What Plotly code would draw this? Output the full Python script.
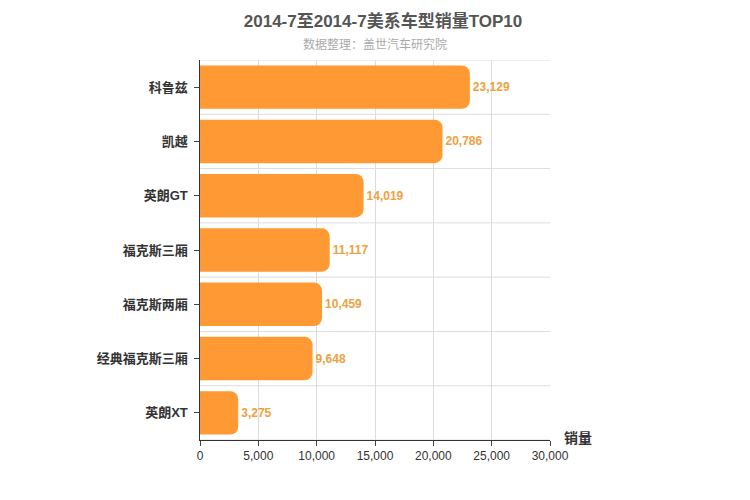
import plotly.graph_objects as go

categories = ["科鲁兹", "凯越", "英朗GT", "福克斯三厢", "福克斯两厢", "经典福克斯三厢", "英朗XT"]
sales = [23129, 20786, 14019, 11117, 10459, 9648, 3275]
xticks = [0, 5000, 10000, 15000, 20000, 25000, 30000]

cats = categories[::-1]
vals = sales[::-1]

fig = go.Figure(go.Bar(
    x=vals, y=cats, orientation="h", width=0.8,
    marker=dict(color="#ff9933", line=dict(width=0)),
    text=[f"<b>{v:,}</b>" for v in vals], textposition="outside",
    textfont=dict(color="#f0a040", size=12, family="Liberation Sans"),
    cliponaxis=False,
))
shapes = []
for i in range(len(cats) + 1):
    shapes.append(dict(type="line", xref="paper", x0=0, x1=1, yref="y", y0=i - 0.5, y1=i - 0.5,
                       line=dict(color="#dddddd", width=1), layer="below"))
fig.update_layout(
    width=750, height=500, plot_bgcolor="white", paper_bgcolor="white",
    margin=dict(l=192, r=208, t=52, b=68, autoexpand=False),
    barcornerradius=8, showlegend=False, shapes=shapes,
    font=dict(family="Liberation Sans, Noto Sans CJK SC", color="#333"),
    title=dict(text="<b>2014-7至2014-7美系车型销量TOP10</b>", x=0.5, y=0.985, xanchor="center",
               font=dict(size=17, color="#555")),
    annotations=[
        dict(text="数据整理：盖世汽车研究院", xref="paper", yref="paper", x=0.5, y=1.065,
             xanchor="center", showarrow=False, font=dict(size=12, color="#aaaaaa")),
        dict(text="<b>销量</b>", xref="paper", yref="paper", x=1, y=0, xanchor="left", yanchor="bottom",
             xshift=12, yshift=-8, showarrow=False, font=dict(size=14, color="#333")),
    ],
    xaxis=dict(range=[0, 30000], tickvals=xticks, tickformat=",", showgrid=True, gridcolor="#dddddd",
               zeroline=False, showline=True, linecolor="#333", ticks="outside", ticklen=5,
               tickfont=dict(size=12, color="#333"), automargin=False),
    yaxis=dict(range=[-0.5, len(cats) - 0.5], showgrid=False, showline=True, linecolor="#333",
               ticks="outside", ticklen=5, tickfont=dict(size=13, color="#333"),
               tickprefix="<b>", ticksuffix="</b> ", automargin=False),
)
fig.write_html("out.html")
